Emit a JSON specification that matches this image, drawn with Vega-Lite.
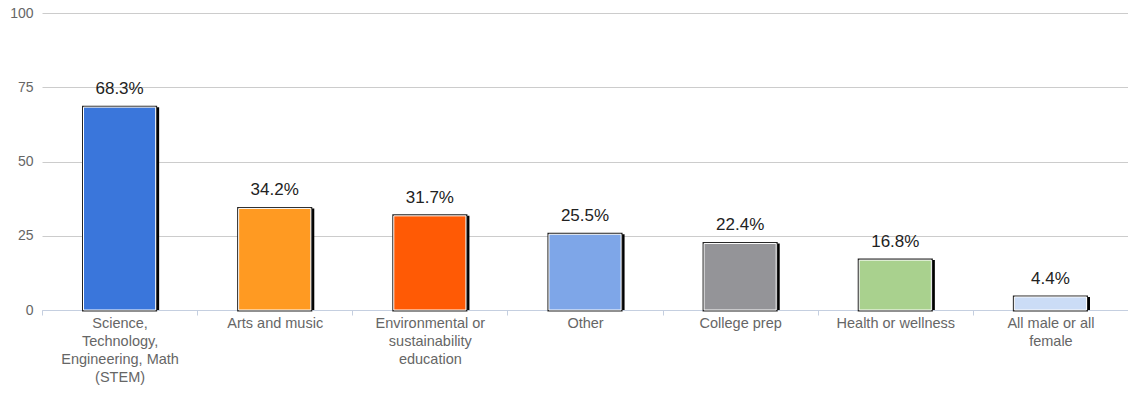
{
  "$schema": "https://vega.github.io/schema/vega-lite/v6.json",
  "autosize": "none",
  "width": 1086,
  "height": 297,
  "padding": {"left": 42, "top": 13, "right": 0, "bottom": 86},
  "background": "white",
  "config": {"view": {"stroke": null}, "font": "Liberation Sans"},
  "data": {
    "values": [
      {"label": "Science,\nTechnology,\nEngineering, Math\n(STEM)", "value": 68.3},
      {"label": "Arts and music", "value": 34.2},
      {"label": "Environmental or\nsustainability\neducation", "value": 31.7},
      {"label": "Other", "value": 25.5},
      {"label": "College prep", "value": 22.4},
      {"label": "Health or wellness", "value": 16.8},
      {"label": "All male or all\nfemale", "value": 4.4}
    ]
  },
  "encoding": {
    "x": {
      "field": "label", "type": "nominal", "sort": null,
      "scale": {"paddingInner": 0, "paddingOuter": 0},
      "axis": {
        "title": null, "labelAngle": 0, "labelExpr": "split(datum.label, '\\n')",
        "labelFont": "Liberation Sans", "labelFontSize": 14.5, "labelColor": "#666666",
        "labelLineHeight": 18, "labelPadding": 1, "labelLimit": 200, "labelBaseline": "top",
        "domainColor": "#c5cfe0", "tickColor": "#c5cfe0", "tickSize": 5,
        "tickBand": "extent", "grid": false
      }
    },
    "y": {
      "field": "value", "type": "quantitative",
      "scale": {"domain": [0, 100], "nice": false},
      "axis": {
        "title": null, "values": [0, 25, 50, 75, 100], "domain": false, "ticks": false,
        "labelPadding": 9, "labelFont": "Liberation Sans", "labelFontSize": 14, "labelColor": "#666666",
        "gridColor": "#cccccc", "gridWidth": 1
      }
    }
  },
  "layer": [
    {
      "mark": {"type": "bar", "width": {"band": 0.465}, "xOffset": 3.5, "color": "#000000"},
      "encoding": {}
    },
    {
      "mark": {"type": "bar", "width": {"band": 0.465}, "stroke": "#222222", "strokeWidth": 3},
      "encoding": {
        "color": {"field": "label", "type": "nominal", "sort": null, "legend": null,
          "scale": {"range": ["#3a76db", "#ff9a22", "#ff5a05", "#7ea6e8", "#949498", "#a9d18e", "#cbdcf6"]}}
      }
    },
    {
      "mark": {"type": "bar", "width": {"band": 0.465}, "stroke": "white", "strokeWidth": 1},
      "encoding": {
        "color": {"field": "label", "type": "nominal", "sort": null, "legend": null}
      }
    },
    {
      "mark": {"type": "text", "baseline": "alphabetic", "dy": -13, "fontSize": 17, "color": "#222222",
        "font": "Liberation Sans", "text": {"expr": "format(datum.value, '.1f') + '%'"}},
      "encoding": {}
    }
  ]
}
